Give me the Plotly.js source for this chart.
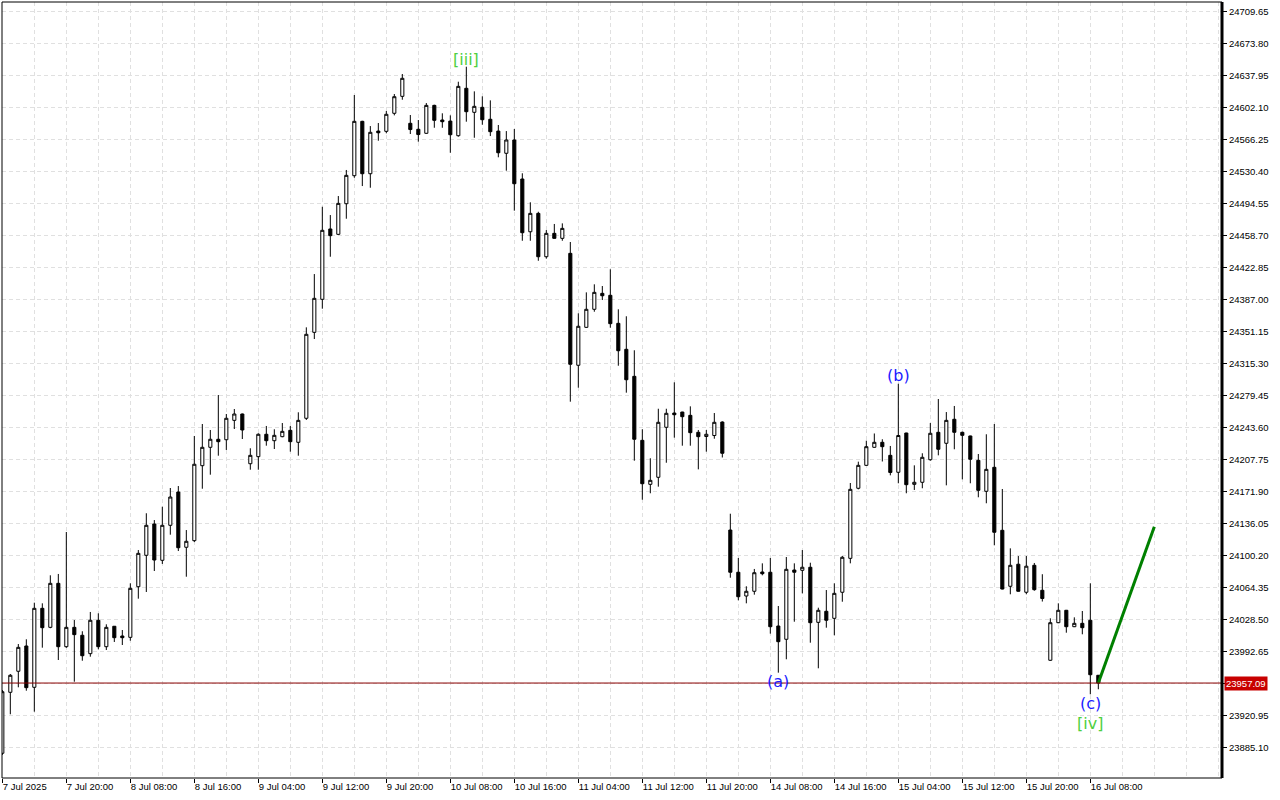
<!DOCTYPE html>
<html>
<head>
<meta charset="utf-8">
<script src="https://cdn.plot.ly/plotly-3.0.1.min.js"></script>
<style>
  html, body { margin: 0; padding: 0; background: #ffffff; }
  #chart { width: 1280px; height: 800px; }
</style>
</head>
<body>
<div id="chart"></div>
<script>
// ---- Data (hourly candles, index 0 = first visible bar) ----
const opens = [
23878.4,23946.7,23970.3,23998.6,23952.3,24040.8,24019.5,24068.8,23997.8,24019.5,
24010.6,23990.0,24027.4,23997.8,24020.7,24009.8,24008.3,24065.0,24100.2,24135.3,
24094.6,24133.8,24171.1,24109.2,24116.6,24200.6,24221.2,24230.2,24229.7,24251.4,
24258.5,24202.8,24210.7,24235.8,24228.6,24233.1,24240.2,24226.8,24253.7,24350.0,
24387.0,24465.8,24459.8,24494.1,24525.5,24586.4,24527.7,24575.5,24575.2,24595.4,
24614.4,24584.2,24577.5,24573.0,24604.3,24587.9,24586.7,24570.3,24623.4,24596.5,
24602.1,24588.7,24575.5,24550.6,24565.5,24521.8,24462.7,24483.3,24434.7,24460.9,
24455.3,24438.5,24313.1,24355.6,24375.8,24393.7,24391.5,24360.1,24331.0,24300.7,
24229.0,24179.7,24187.6,24243.6,24259.6,24260.7,24257.0,24238.0,24233.3,24234.4,
24249.5,24128.5,24081.2,24054.6,24059.9,24081.5,24081.2,24021.0,24006.1,24083.7,
24083.4,24086.8,24025.1,24037.5,24029.6,24058.8,24096.8,24175.3,24201.0,24221.2,
24226.8,24212.2,24193.2,24237.2,24179.7,24182.0,24207.3,24238.0,24225.7,24252.6,
24238.0,24233.9,24206.6,24171.9,24198.8,24128.2,24065.5,24090.2,24058.8,24089.0,
24061.0,23982.6,24024.7,24038.6,24020.2,24024.0,24027.4,23965.8
];
const highs = [
23949.3,23967.2,24000.8,24006.1,24047.1,24046.4,24077.8,24079.3,24126.3,24027.7,
24015.1,24036.7,24035.2,24022.9,24021.0,24016.5,24068.8,24106.1,24147.3,24139.7,
24154.6,24175.6,24177.8,24128.5,24233.9,24247.3,24240.6,24279.8,24258.5,24264.1,
24259.0,24220.1,24236.9,24245.1,24241.4,24248.4,24245.1,24260.4,24355.6,24415.3,
24490.7,24481.4,24502.7,24531.9,24615.9,24587.0,24581.1,24584.5,24598.0,24617.0,
24639.4,24593.5,24587.9,24606.9,24605.0,24595.4,24593.1,24630.8,24647.6,24620.0,
24614.4,24609.9,24582.3,24575.5,24577.8,24528.2,24495.7,24485.1,24464.6,24471.4,
24472.1,24451.2,24371.3,24394.8,24403.8,24401.9,24420.6,24375.8,24368.0,24329.9,
24241.4,24208.9,24264.4,24264.4,24294.0,24261.0,24267.1,24240.6,24240.6,24259.6,
24250.3,24146.8,24097.2,24065.5,24084.9,24091.2,24097.2,24043.4,24098.3,24091.2,
24106.1,24091.9,24041.5,24061.3,24068.8,24099.4,24181.2,24205.1,24228.6,24236.7,
24230.2,24222.7,24292.4,24237.5,24201.0,24214.5,24248.4,24275.3,24260.7,24267.5,
24238.7,24234.2,24213.7,24235.8,24247.3,24174.5,24108.0,24099.4,24099.4,24091.6,
24079.0,24029.6,24046.4,24039.0,24030.7,24037.8,24068.8,23966.0
];
const lows = [
23876.5,23922.1,23952.3,23948.5,23925.0,23996.7,24018.5,23982.9,23996.5,23958.6,
23982.1,23986.6,23994.9,23994.1,24003.1,23999.7,24004.5,24051.6,24059.1,24082.6,
24090.5,24123.3,24105.0,24076.2,24115.0,24174.8,24190.5,24211.8,24218.2,24241.7,
24230.5,24196.1,24196.1,24223.0,24219.3,24232.5,24216.3,24211.8,24251.8,24342.5,
24376.5,24434.7,24459.0,24477.3,24523.2,24513.9,24512.0,24564.7,24573.0,24593.1,
24610.6,24572.2,24563.6,24572.5,24579.2,24579.2,24551.2,24569.2,24586.0,24568.0,
24582.6,24569.9,24546.1,24531.1,24486.3,24452.6,24452.6,24430.2,24432.5,24455.0,
24452.6,24272.3,24288.0,24355.0,24373.1,24386.2,24355.2,24312.6,24282.4,24206.2,
24162.5,24169.7,24177.1,24203.9,24232.0,24223.0,24223.0,24196.5,24216.3,24230.8,
24209.8,24075.1,24049.8,24046.4,24056.1,24077.8,24012.4,23968.7,23983.7,24025.8,
24057.6,24002.3,23973.6,24019.1,24010.6,24048.2,24091.2,24174.1,24200.5,24220.8,
24205.3,24189.8,24180.9,24169.7,24173.4,24175.3,24206.2,24212.2,24178.6,24219.0,
24185.3,24180.9,24165.2,24158.5,24111.4,24062.0,24056.5,24059.5,24056.5,24060.5,
24048.4,23982.0,24024.2,24013.5,24019.8,24011.7,23944.5,23950.1
];
const closes = [
23947.4,23965.8,23997.1,23951.9,24040.8,24019.1,24068.8,23997.8,24019.5,24011.3,
23987.7,24027.4,23997.8,24019.5,24007.9,24007.9,24063.2,24102.4,24133.8,24094.9,
24133.8,24165.5,24108.7,24115.9,24202.2,24221.2,24230.2,24227.5,24253.7,24258.5,
24240.6,24212.2,24235.8,24228.6,24234.6,24239.1,24227.5,24251.4,24347.8,24388.1,
24464.3,24458.3,24494.5,24525.9,24586.4,24527.7,24574.1,24573.6,24594.3,24614.0,
24634.6,24577.2,24571.6,24604.3,24587.5,24586.0,24571.4,24625.6,24597.2,24603.2,
24588.2,24574.8,24551.2,24565.5,24516.5,24461.6,24483.3,24434.7,24460.9,24455.3,
24466.5,24314.2,24356.8,24375.8,24394.8,24391.0,24359.7,24329.4,24296.9,24230.2,
24180.4,24184.2,24249.2,24259.3,24257.7,24255.5,24237.6,24233.1,24235.8,24249.2,
24214.5,24081.2,24053.8,24059.9,24080.7,24079.6,24020.2,24003.4,24084.5,24081.2,
24086.8,24024.7,24038.6,24027.4,24057.6,24098.0,24174.1,24201.0,24221.9,24226.8,
24221.9,24193.0,24234.4,24179.3,24182.0,24210.0,24236.9,24219.0,24251.4,24238.0,
24234.6,24207.8,24173.0,24196.5,24126.0,24062.4,24089.0,24059.9,24088.0,24061.7,
24051.8,24024.7,24038.6,24020.2,24024.0,24019.1,23966.4,23957.09
];

// x tick labels (every 8 bars)
const xTickIdx = [0,8,16,24,32,40,48,56,64,72,80,88,96,104,112,120,128,136];
const xTickText = ["7 Jul 2025","7 Jul 20:00","8 Jul 08:00","8 Jul 16:00","9 Jul 04:00",
  "9 Jul 12:00","9 Jul 20:00","10 Jul 08:00","10 Jul 16:00","11 Jul 04:00","11 Jul 12:00",
  "11 Jul 20:00","14 Jul 08:00","14 Jul 16:00","15 Jul 04:00","15 Jul 12:00","15 Jul 20:00","16 Jul 08:00"];

// y tick values / labels
const yTicks = [23885.10,23920.95,23956.80,23992.65,24028.50,24064.35,24100.20,24136.05,
  24171.90,24207.75,24243.60,24279.45,24315.30,24351.15,24387.00,24422.85,24458.70,
  24494.55,24530.40,24566.25,24602.10,24637.95,24673.80,24709.65];
const yTickText = ["23885.10","23920.95","","23992.65","24028.50","24064.35","24100.20","24136.05",
  "24171.90","24207.75","24243.60","24279.45","24315.30","24351.15","24387.00","24422.85","24458.70",
  "24494.55","24530.40","24566.25","24602.10","24637.95","24673.80","24709.65"];

// Wave labels
const waveText  = ["[iii]", "(a)", "(b)", "(c)", "[iv]"];
const waveIdx   = [58, 97, 112, 136, 136];
const wavePrice = [24656.2, 23958.3, 24301.1, 23934.7, 23912.3];
const waveColor = ["#4fcf3f", "#1c1cff", "#1c1cff", "#1c1cff", "#4fcf3f"];

// Projection line
const projX = [137, 144];
const projY = [23957.09, 24132.2];

const currentPrice = 23957.09;

// ---- Build ----
const idx = opens.map((_, i) => i);
const gridColor = "#e0e0e0";
const axisFont = { family: "Liberation Sans, Arial, sans-serif", size: 9.5, color: "#000000" };

const traces = [
  {
    type: "candlestick",
    x: idx, open: opens, high: highs, low: lows, close: closes,
    increasing: { line: { color: "#000000", width: 1 }, fillcolor: "#ffffff" },
    decreasing: { line: { color: "#000000", width: 1 }, fillcolor: "#000000" },
    whiskerwidth: 0,
    showlegend: false,
    hoverinfo: "skip"
  },
  {
    type: "scatter", mode: "lines",
    x: projX, y: projY,
    line: { color: "#008000", width: 3 },
    showlegend: false, hoverinfo: "skip"
  }
];

const annotations = waveText.map((t, k) => ({
  x: waveIdx[k], y: wavePrice[k], xref: "x", yref: "y",
  text: t, showarrow: false, xanchor: "center", yanchor: "middle",
  font: { family: "DejaVu Sans, sans-serif", size: 16, color: waveColor[k] }
}));
annotations.push({
  xref: "paper", x: 1, xanchor: "left", xshift: 2,
  yref: "y", y: currentPrice, yanchor: "middle",
  text: currentPrice.toFixed(2), showarrow: false,
  bgcolor: "#c80000", borderpad: 1,
  font: { family: "Liberation Sans, Arial, sans-serif", size: 9.5, color: "#ffffff" }
});

const layout = {
  width: 1280, height: 800,
  paper_bgcolor: "#ffffff", plot_bgcolor: "#ffffff",
  margin: { l: 2, r: 58, t: 2, b: 22, pad: 0 },
  boxgap: 0.45,
  hovermode: false,
  showlegend: false,
  xaxis: {
    type: "linear",
    range: [-0.04, 152.46],
    rangeslider: { visible: false },
    tickmode: "array", tickvals: xTickIdx, ticktext: xTickText,
    ticks: "outside", ticklen: 4, tickcolor: "#000000", tickwidth: 1,
    ticklabelposition: "outside right",
    tickfont: axisFont,
    showgrid: true, gridcolor: gridColor, griddash: "4px,3px", gridwidth: 1,
    minor: { tickmode: "linear", tick0: 0, dtick: 4, showgrid: true,
             gridcolor: gridColor, griddash: "4px,3px", gridwidth: 1, ticks: "" },
    zeroline: false, showline: false, fixedrange: true
  },
  yaxis: {
    side: "right",
    range: [23850.7, 24720.1],
    tickmode: "array", tickvals: yTicks, ticktext: yTickText,
    ticks: "outside", ticklen: 4, tickcolor: "#000000", tickwidth: 1,
    tickfont: axisFont,
    showgrid: true, gridcolor: gridColor, griddash: "4px,3px", gridwidth: 1,
    zeroline: false, showline: false, fixedrange: true
  },
  shapes: [
    { type: "line", xref: "paper", x0: 0, x1: 1, yref: "y", y0: currentPrice, y1: currentPrice,
      line: { color: "#8a0000", width: 1 } },
    { type: "rect", xref: "paper", yref: "paper", x0: 0, x1: 1, y0: 0, y1: 1,
      line: { color: "#000000", width: 1 } },
    { type: "line", xref: "paper", yref: "paper", x0: 1, x1: 1, y0: 0, y1: 1,
      line: { color: "#000000", width: 3 } }
  ],
  annotations: annotations
};

Plotly.newPlot("chart", traces, layout, { displayModeBar: false, staticPlot: true });
</script>
</body>
</html>
